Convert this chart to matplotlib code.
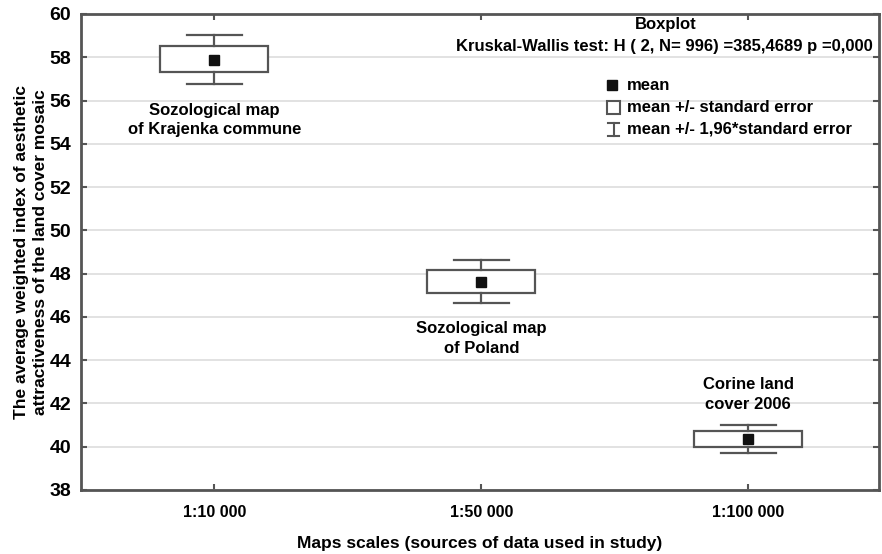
import matplotlib
matplotlib.use("Agg")
import matplotlib.pyplot as plt
from matplotlib.patches import Rectangle

plt.rcParams['font.family'] = ['Liberation Sans', 'DejaVu Sans']
plt.rcParams['font.weight'] = 'bold'

categories = ["1:10 000", "1:50 000", "1:100 000"]
group_labels = ["Sozological map\nof Krajenka commune", "Sozological map\nof Poland", "Corine land\ncover 2006"]
means = [57.88, 47.62, 40.35]
se_low = [57.31, 47.10, 40.00]
se_high = [58.54, 48.15, 40.72]
ci_low = [56.77, 46.62, 39.70]
ci_high = [59.05, 48.63, 41.00]
yticks = [38, 40, 42, 44, 46, 48, 50, 52, 54, 56, 58, 60]

edge = '#555555'
fig = plt.figure(figsize=(8.82, 5.54), dpi=100)
ax = fig.add_axes([81/882, 1-490/554, (879-81)/882, (490-14)/554])

stats = []
for i in range(len(categories)):
    stats.append(dict(med=means[i], mean=means[i], q1=se_low[i], q3=se_high[i],
                      whislo=ci_low[i], whishi=ci_high[i], fliers=[]))
pos = list(range(len(categories)))
ax.bxp(stats, positions=pos, widths=0.405, capwidths=0.205, showmeans=True,
       showfliers=False, patch_artist=True,
       boxprops=dict(facecolor='white', edgecolor=edge, linewidth=1.6),
       whiskerprops=dict(color=edge, linewidth=1.6),
       capprops=dict(color=edge, linewidth=1.6),
       medianprops=dict(visible=False),
       meanprops=dict(marker='s', markerfacecolor='#111111', markeredgecolor='#111111', markersize=7),
       zorder=3)

ax.set_xlim(-0.5, 2.49)
ax.set_ylim(38, 60)
ax.set_yticks(yticks)
ax.set_xticks(pos)
ax.set_xticklabels(categories, fontsize=11.5, fontweight='bold')
ax.set_yticklabels([str(v) for v in yticks], fontsize=14, fontweight='bold')
ax.tick_params(axis='both', direction='in', length=4, width=1.5, color=edge,
               top=True, right=True)
ax.tick_params(axis='x', pad=11)
ax.tick_params(axis='y', pad=7)
ax.grid(axis='y', color='#dddddd', linewidth=1.2, zorder=0)
ax.set_axisbelow(True)
for s in ax.spines.values():
    s.set_color(edge)
    s.set_linewidth(2)

ax.set_xlabel("Maps scales (sources of data used in study)", fontsize=12.5, fontweight='bold', labelpad=11)
ax.set_ylabel("The average weighted index of aesthetic\nattractiveness of the land cover mosaic",
              fontsize=12.5, fontweight='bold', labelpad=1, linespacing=1.35)

# group annotations
ann_y = [55.1, 45.0, 42.4]
for i, lab in enumerate(group_labels):
    ax.text(pos[i], ann_y[i], lab, ha='center', va='center', fontsize=12,
            fontweight='bold', linespacing=1.4)

def fx(px):
    return (px - 81) / (879 - 81)
def fy(py):
    return (490 - py) / (490 - 14)

# titles
ax.text(fx(666), fy(25), "Boxplot", transform=ax.transAxes, ha='center', va='center',
        fontsize=12, fontweight='bold')
ax.text(fx(873), fy(47), "Kruskal-Wallis test: H ( 2, N= 996) =385,4689 p =0,000",
        transform=ax.transAxes, ha='right', va='center', fontsize=12, fontweight='bold')

# legend (manual, in axes fraction)
ax.plot([fx(612)], [fy(85)], marker='s', color='#111111', markersize=6.5,
        transform=ax.transAxes, clip_on=False)
ax.add_patch(Rectangle((fx(607), fy(113.5)), fx(620) - fx(607), fy(101.5) - fy(113.5),
                       transform=ax.transAxes, facecolor='white', edgecolor=edge, linewidth=1.5))
ax.plot([fx(613.5), fx(613.5)], [fy(123), fy(136)], color=edge, lw=1.5, transform=ax.transAxes)
ax.plot([fx(608), fx(619)], [fy(123), fy(123)], color=edge, lw=1.5, transform=ax.transAxes)
ax.plot([fx(608), fx(619)], [fy(136), fy(136)], color=edge, lw=1.5, transform=ax.transAxes)
leg_texts = ["mean", "mean +/- standard error", "mean +/- 1,96*standard error"]
leg_y = [85, 107, 129]
for t, yy in zip(leg_texts, leg_y):
    ax.text(fx(627), fy(yy), t, transform=ax.transAxes, ha='left', va='center',
            fontsize=12, fontweight='bold')

fig.savefig("out.png", dpi=100)
